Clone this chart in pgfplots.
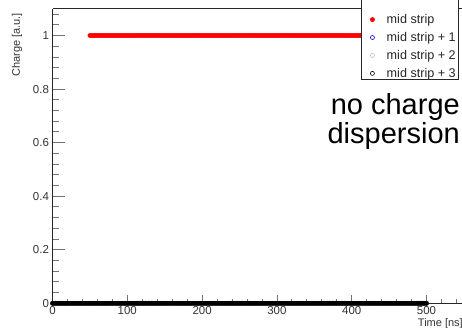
\documentclass[border=0pt]{standalone}
\usepackage{fontspec}
\setmainfont{Liberation Sans}
\usepackage{pgfplots}
\pgfplotsset{compat=1.18}
\usepackage{pgfplotstable}

% mid strip: charge 1 from 50 ns to 500 ns
\pgfplotstableread[row sep=\\]{
x y\\
50 1\\52 1\\54 1\\56 1\\58 1\\60 1\\62 1\\64 1\\66 1\\68 1\\
70 1\\72 1\\74 1\\76 1\\78 1\\80 1\\82 1\\84 1\\86 1\\88 1\\
90 1\\92 1\\94 1\\96 1\\98 1\\100 1\\102 1\\104 1\\106 1\\108 1\\
110 1\\112 1\\114 1\\116 1\\118 1\\120 1\\122 1\\124 1\\126 1\\128 1\\
130 1\\132 1\\134 1\\136 1\\138 1\\140 1\\142 1\\144 1\\146 1\\148 1\\
150 1\\152 1\\154 1\\156 1\\158 1\\160 1\\162 1\\164 1\\166 1\\168 1\\
170 1\\172 1\\174 1\\176 1\\178 1\\180 1\\182 1\\184 1\\186 1\\188 1\\
190 1\\192 1\\194 1\\196 1\\198 1\\200 1\\202 1\\204 1\\206 1\\208 1\\
210 1\\212 1\\214 1\\216 1\\218 1\\220 1\\222 1\\224 1\\226 1\\228 1\\
230 1\\232 1\\234 1\\236 1\\238 1\\240 1\\242 1\\244 1\\246 1\\248 1\\
250 1\\252 1\\254 1\\256 1\\258 1\\260 1\\262 1\\264 1\\266 1\\268 1\\
270 1\\272 1\\274 1\\276 1\\278 1\\280 1\\282 1\\284 1\\286 1\\288 1\\
290 1\\292 1\\294 1\\296 1\\298 1\\300 1\\302 1\\304 1\\306 1\\308 1\\
310 1\\312 1\\314 1\\316 1\\318 1\\320 1\\322 1\\324 1\\326 1\\328 1\\
330 1\\332 1\\334 1\\336 1\\338 1\\340 1\\342 1\\344 1\\346 1\\348 1\\
350 1\\352 1\\354 1\\356 1\\358 1\\360 1\\362 1\\364 1\\366 1\\368 1\\
370 1\\372 1\\374 1\\376 1\\378 1\\380 1\\382 1\\384 1\\386 1\\388 1\\
390 1\\392 1\\394 1\\396 1\\398 1\\400 1\\402 1\\404 1\\406 1\\408 1\\
410 1\\412 1\\414 1\\416 1\\418 1\\420 1\\422 1\\424 1\\426 1\\428 1\\
430 1\\432 1\\434 1\\436 1\\438 1\\440 1\\442 1\\444 1\\446 1\\448 1\\
450 1\\452 1\\454 1\\456 1\\458 1\\460 1\\462 1\\464 1\\466 1\\468 1\\
470 1\\472 1\\474 1\\476 1\\478 1\\480 1\\482 1\\484 1\\486 1\\488 1\\
490 1\\492 1\\494 1\\496 1\\498 1\\500 1\\
}\midtab

% neighbouring strips: charge 0 from 0 ns to 500 ns
\pgfplotstableread[row sep=\\]{
x y\\
0 0\\2 0\\4 0\\6 0\\8 0\\10 0\\12 0\\14 0\\16 0\\18 0\\
20 0\\22 0\\24 0\\26 0\\28 0\\30 0\\32 0\\34 0\\36 0\\38 0\\
40 0\\42 0\\44 0\\46 0\\48 0\\50 0\\52 0\\54 0\\56 0\\58 0\\
60 0\\62 0\\64 0\\66 0\\68 0\\70 0\\72 0\\74 0\\76 0\\78 0\\
80 0\\82 0\\84 0\\86 0\\88 0\\90 0\\92 0\\94 0\\96 0\\98 0\\
100 0\\102 0\\104 0\\106 0\\108 0\\110 0\\112 0\\114 0\\116 0\\118 0\\
120 0\\122 0\\124 0\\126 0\\128 0\\130 0\\132 0\\134 0\\136 0\\138 0\\
140 0\\142 0\\144 0\\146 0\\148 0\\150 0\\152 0\\154 0\\156 0\\158 0\\
160 0\\162 0\\164 0\\166 0\\168 0\\170 0\\172 0\\174 0\\176 0\\178 0\\
180 0\\182 0\\184 0\\186 0\\188 0\\190 0\\192 0\\194 0\\196 0\\198 0\\
200 0\\202 0\\204 0\\206 0\\208 0\\210 0\\212 0\\214 0\\216 0\\218 0\\
220 0\\222 0\\224 0\\226 0\\228 0\\230 0\\232 0\\234 0\\236 0\\238 0\\
240 0\\242 0\\244 0\\246 0\\248 0\\250 0\\252 0\\254 0\\256 0\\258 0\\
260 0\\262 0\\264 0\\266 0\\268 0\\270 0\\272 0\\274 0\\276 0\\278 0\\
280 0\\282 0\\284 0\\286 0\\288 0\\290 0\\292 0\\294 0\\296 0\\298 0\\
300 0\\302 0\\304 0\\306 0\\308 0\\310 0\\312 0\\314 0\\316 0\\318 0\\
320 0\\322 0\\324 0\\326 0\\328 0\\330 0\\332 0\\334 0\\336 0\\338 0\\
340 0\\342 0\\344 0\\346 0\\348 0\\350 0\\352 0\\354 0\\356 0\\358 0\\
360 0\\362 0\\364 0\\366 0\\368 0\\370 0\\372 0\\374 0\\376 0\\378 0\\
380 0\\382 0\\384 0\\386 0\\388 0\\390 0\\392 0\\394 0\\396 0\\398 0\\
400 0\\402 0\\404 0\\406 0\\408 0\\410 0\\412 0\\414 0\\416 0\\418 0\\
420 0\\422 0\\424 0\\426 0\\428 0\\430 0\\432 0\\434 0\\436 0\\438 0\\
440 0\\442 0\\444 0\\446 0\\448 0\\450 0\\452 0\\454 0\\456 0\\458 0\\
460 0\\462 0\\464 0\\466 0\\468 0\\470 0\\472 0\\474 0\\476 0\\478 0\\
480 0\\482 0\\484 0\\486 0\\488 0\\490 0\\492 0\\494 0\\496 0\\498 0\\
500 0\\
}\zerotab

\begin{document}
\begin{tikzpicture}
\path[use as bounding box] (0pt,0pt) rectangle (462pt,327pt);
\begin{axis}[
  at={(52.5pt,23.7pt)}, anchor=south west, scale only axis,
  width=411.4pt, height=294.6pt,
  xmin=0, xmax=550, ymin=0, ymax=1.1,
  clip=false,
  axis x line=box, axis y line=left,
  axis line style={-, draw=black!85, line width=0.8pt},
  xtick={0,100,200,300,400,500,600},
  ytick={0,0.2,0.4,0.6,0.8,1,1.2},
  minor x tick num=4, minor y tick num=4,
  xtick pos=left, ytick pos=left,
  tick align=inside,
  major tick length=12.3pt, minor tick length=6.2pt,
  xtick style={/pgfplots/major tick length=8.8pt, /pgfplots/minor tick length=4.4pt},
  tick style={draw=black!55, line width=0.8pt},
  ticklabel style={font=\fontsize{11.5}{13}\selectfont, text=black!80},
  /pgf/number format/assume math mode=true,
  legend cell align=left,
  legend style={at={(axis description cs:0.7499,0.7580)}, anchor=south west,
    fill=white, draw=black!85, line width=0.8pt,
    font=\fontsize{12.6}{15}\selectfont, text=black!85,
    inner xsep=2.5pt, inner ysep=0.9pt, row sep=7.3pt, column sep=12.3pt,
    nodes={inner sep=0pt}},
]
\addlegendimage{empty legend}
\addlegendentry{\rule{0pt}{12pt}\hspace{80pt}}
\addplot[only marks, mark=*, mark size=2.1pt, color=red,
  legend image post style={mark size=2pt}] table {\midtab};
\addlegendentry{mid strip}
\addplot[only marks, mark=*, mark size=2.1pt, color=blue,
  legend image post style={mark=o, mark size=2pt, mark options={line width=0.6pt}}] table {\zerotab};
\addlegendentry{mid strip + 1}
\addplot[only marks, mark=*, mark size=2.1pt, color=black!25,
  legend image post style={mark=o, mark size=2pt, mark options={line width=0.6pt}}] table {\zerotab};
\addlegendentry{mid strip + 2}
\addplot[only marks, mark=*, mark size=2.1pt, color=black,
  legend image post style={mark=o, mark size=2pt, mark options={line width=0.6pt}}] table {\zerotab};
\addlegendentry{mid strip + 3}
\end{axis}
\node[rotate=90, anchor=east, font=\fontsize{11}{13}\selectfont, text=black!80, inner sep=0pt] at (17pt,314pt) {Charge [a.u.]};
\node[anchor=base east, font=\fontsize{11}{13}\selectfont, text=black!80, inner sep=0pt] at (463pt,1pt) {Time [ns]};
\node[anchor=base east, font=\fontsize{29}{30}\selectfont, text=black, inner sep=0pt] at (460pt,212pt) {no charge};
\node[anchor=base east, font=\fontsize{29}{30}\selectfont, text=black, inner sep=0pt] at (460pt,184pt) {dispersion};
\end{tikzpicture}
\end{document}
